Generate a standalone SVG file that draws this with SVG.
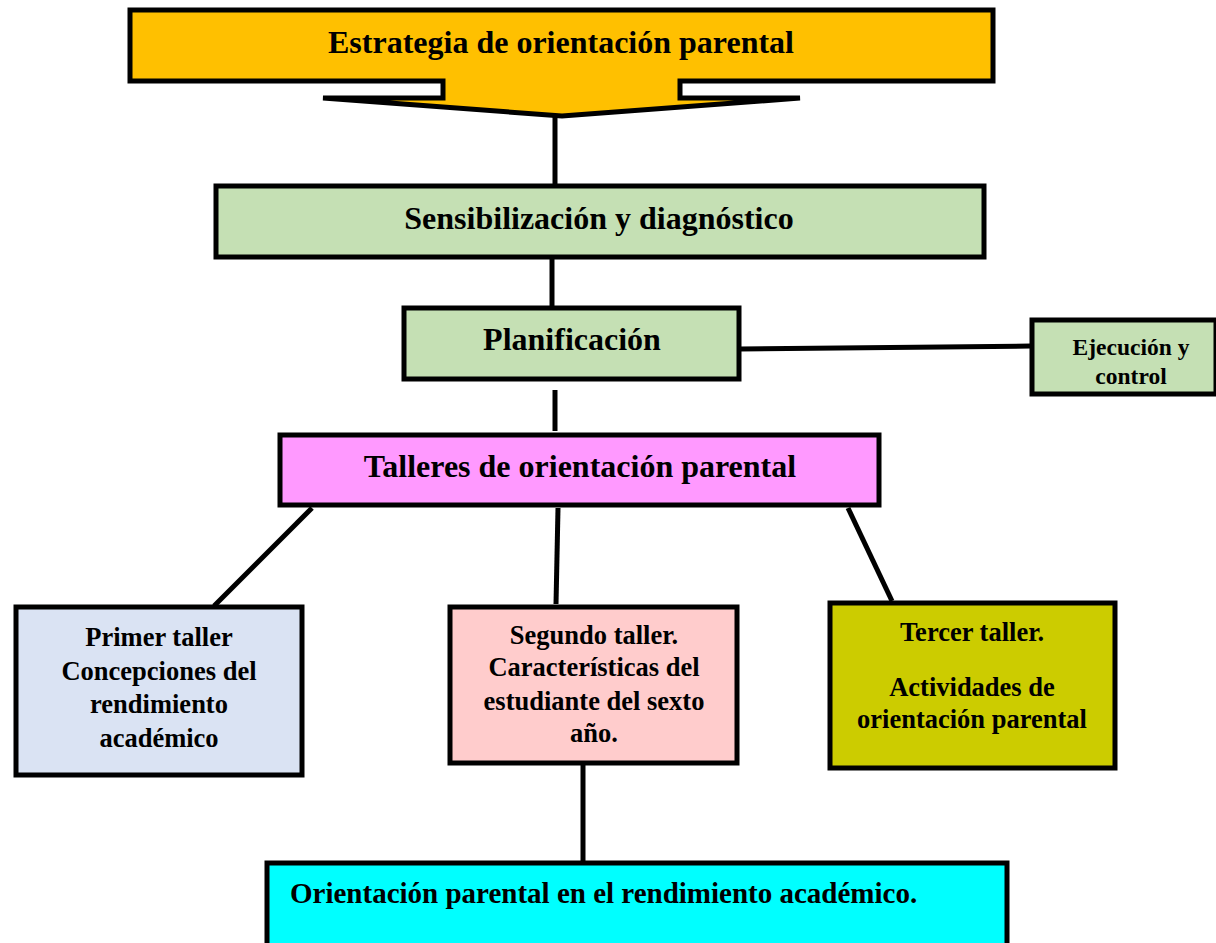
<svg xmlns="http://www.w3.org/2000/svg" width="1216" height="943" viewBox="0 0 1216 943">
<style>
text{font-family:"Liberation Serif","Times New Roman",serif;font-weight:bold;fill:#000}
.box{stroke:#000;stroke-width:5}
.c{stroke:#000;stroke-width:5;fill:none}
.t1{font-size:32px}
.t2{font-size:26.5px}
.t3{font-size:23.5px}
</style>
<rect width="1216" height="943" fill="#fff"/>
<g id="connectors">
<line class="c" x1="555" y1="117" x2="555" y2="185" stroke-width="6"/>
<line class="c" x1="552" y1="258" x2="552" y2="306"/>
<line class="c" x1="740" y1="349" x2="1031" y2="346"/>
<line class="c" x1="555" y1="390" x2="555" y2="431"/>
<line class="c" x1="312" y1="508" x2="214" y2="606"/>
<line class="c" x1="558" y1="508" x2="556" y2="604"/>
<line class="c" x1="848" y1="508" x2="892" y2="601"/>
<line class="c" x1="583" y1="764" x2="583" y2="862"/>
</g>
<g id="estrategia">
<path d="M130,10 H993 V81 H680 V98 H800 L562,116 L323,98 H443 V81 H130 Z" fill="#FFC000" stroke="#000" stroke-width="5" stroke-linejoin="miter"/>
<text class="t1" x="561" y="53" text-anchor="middle">Estrategia de orientación parental</text>
</g>
<g id="sensibilizacion">
<rect class="box" x="216" y="186" width="768" height="71" fill="#C5E0B4"/>
<text class="t1" x="599" y="229" text-anchor="middle">Sensibilización y diagnóstico</text>
</g>
<g id="planificacion">
<rect class="box" x="404" y="308" width="335" height="71" fill="#C5E0B4"/>
<text class="t1" x="572" y="350" text-anchor="middle">Planificación</text>
</g>
<g id="ejecucion">
<rect class="box" x="1032" y="320" width="184" height="74" fill="#C5E0B4"/>
<text class="t3" x="1131" y="355" text-anchor="middle">Ejecución y</text>
<text class="t3" x="1131" y="384" text-anchor="middle">control</text>
</g>
<g id="talleres">
<rect class="box" x="280" y="435" width="599" height="70" fill="#FF99FF"/>
<text class="t1" x="580" y="477" text-anchor="middle">Talleres de orientación parental</text>
</g>
<g id="primer">
<rect class="box" x="16" y="607" width="286" height="168" fill="#DAE3F3"/>
<text class="t2" x="159" y="646" text-anchor="middle">Primer taller</text>
<text class="t2" x="159" y="680" text-anchor="middle">Concepciones del</text>
<text class="t2" x="159" y="713" text-anchor="middle">rendimiento</text>
<text class="t2" x="159" y="747" text-anchor="middle">académico</text>
</g>
<g id="segundo">
<rect class="box" x="450" y="607" width="287" height="156" fill="#FFCCCC"/>
<text class="t2" x="594" y="644" text-anchor="middle">Segundo taller.</text>
<text class="t2" x="594" y="676" text-anchor="middle">Características del</text>
<text class="t2" x="594" y="710" text-anchor="middle">estudiante del sexto</text>
<text class="t2" x="594" y="742" text-anchor="middle">año.</text>
</g>
<g id="tercer">
<rect class="box" x="830" y="603" width="285" height="165" fill="#CCCC00"/>
<text class="t2" x="972" y="641" text-anchor="middle">Tercer taller.</text>
<text class="t2" x="972" y="696" text-anchor="middle">Actividades de</text>
<text class="t2" x="972" y="728" text-anchor="middle">orientación parental</text>
</g>
<g id="orientacion">
<rect class="box" x="267" y="863" width="740" height="84" fill="#00FFFF"/>
<text class="t1" x="290" y="903" style="font-size:29px">Orientación parental en el rendimiento académico.</text>
</g>
</svg>
